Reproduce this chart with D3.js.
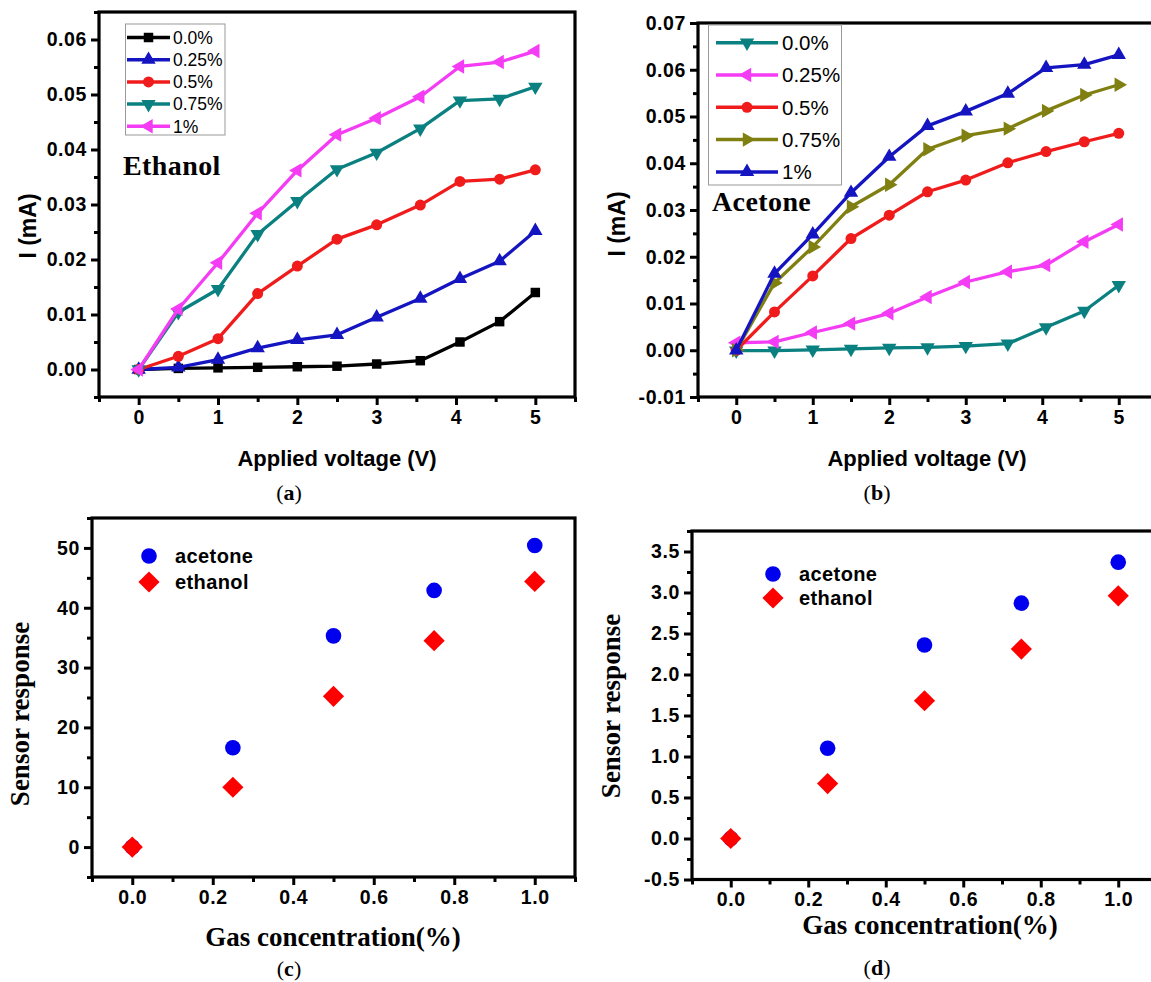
<!DOCTYPE html>
<html>
<head>
<meta charset="utf-8">
<script src="https://cdn.jsdelivr.net/npm/d3@7"></script>
<style>
  body { margin: 0; background: #fff; }
  svg { display: block; }
</style>
</head>
<body>
<svg width="1151" height="982"></svg>
<script>
// ---- data ----
const voltage = [0, 0.5, 1, 1.5, 2, 2.5, 3, 3.55, 4.05, 4.55, 5];
const legendLabels = ['0.0%', '0.25%', '0.5%', '0.75%', '1%'];

// (a) ethanol I-V, current in mA
const eth00 = [0, 0.0002, 0.0003, 0.0004, 0.0005, 0.0006, 0.001, 0.0016, 0.005, 0.0087, 0.014];
const eth025 = [0, 0.0004, 0.0018, 0.0039, 0.0054, 0.0063, 0.0095, 0.0129, 0.0165, 0.0197, 0.0252];
const eth05 = [0, 0.0024, 0.0056, 0.0138, 0.0188, 0.0237, 0.0263, 0.0299, 0.0342, 0.0346, 0.0363];
const eth075 = [0, 0.0104, 0.0146, 0.0246, 0.0306, 0.0364, 0.0394, 0.0438, 0.0489, 0.0492, 0.0514];
const eth1 = [0, 0.011, 0.0194, 0.0284, 0.0362, 0.0427, 0.0457, 0.0496, 0.0551, 0.0559, 0.0579];

// (b) acetone I-V
const ace00 = [-0.0001, -0.0001, 0.0001, 0.0003, 0.0005, 0.0006, 0.0009, 0.0014, 0.0049, 0.0084, 0.0139];
const ace025 = [0.0016, 0.0018, 0.0038, 0.0057, 0.0079, 0.0114, 0.0146, 0.0168, 0.0182, 0.0232, 0.0269];
const ace05 = [0, 0.0082, 0.0159, 0.0239, 0.0289, 0.0339, 0.0364, 0.0401, 0.0425, 0.0446, 0.0464];
const ace075 = [0, 0.0144, 0.0221, 0.0307, 0.0354, 0.043, 0.0459, 0.0474, 0.0512, 0.0546, 0.0568];
const ace1 = [0, 0.0164, 0.0248, 0.0337, 0.0414, 0.048, 0.0511, 0.0549, 0.0604, 0.0611, 0.0632];

// (c), (d) sensor response vs concentration
const conc = [0, 0.25, 0.5, 0.75, 1.0];
const respAceC = [0, 16.6, 35.3, 42.9, 50.4];
const respEthC = [0, 10.0, 25.2, 34.5, 44.4];
const respAceD = [0, 1.10, 2.36, 2.87, 3.37];
const respEthD = [0, 0.67, 1.68, 2.31, 2.96];

// ticks
const ivXTicks = [0, 1, 2, 3, 4, 5];
const ethYTicks = [0, 0.01, 0.02, 0.03, 0.04, 0.05, 0.06];
const aceYTicks = [-0.01, 0, 0.01, 0.02, 0.03, 0.04, 0.05, 0.06, 0.07];
const concXTicks = [0, 0.2, 0.4, 0.6, 0.8, 1.0];
const respYTicksC = [0, 10, 20, 30, 40, 50];
const respYTicksD = [-0.5, 0, 0.5, 1.0, 1.5, 2.0, 2.5, 3.0, 3.5];

const col = {
  black: '#000000', blue: '#1414c0', red: '#f01c1c', teal: '#0b8080',
  magenta: '#f43cf4', olive: '#808012'
};

const svg = d3.select('svg');
const SANS = '"Liberation Sans", Arial, sans-serif';
const SERIF = '"Liberation Serif", "Times New Roman", serif';

function setupPanel(c) {
  const g = svg.append('g');
  const x = d3.scaleLinear().domain(c.xd).range([c.left, c.right]);
  const y = d3.scaleLinear().domain(c.yd).range([c.bottom, c.top]);

  const style = sel => {
    sel.select('.domain').remove();
    sel.selectAll('line').attr('stroke', '#000').attr('stroke-width', 3);
    sel.selectAll('text')
      .attr('fill', '#000')
      .style('font-family', SANS)
      .style('font-weight', 'bold')
      .style('font-size', '19.5px')
      .style('letter-spacing', '0.6px');
  };

  g.append('g').attr('transform', `translate(0,${c.bottom})`)
    .call(d3.axisBottom(x).tickValues(c.xMinor).tickSize(5).tickFormat(''))
    .call(style);
  g.append('g').attr('transform', `translate(0,${c.bottom})`)
    .call(d3.axisBottom(x).tickValues(c.xTicks).tickSize(8).tickPadding(5).tickFormat(c.xFmt))
    .call(style);
  g.append('g').attr('transform', `translate(${c.left},0)`)
    .call(d3.axisLeft(y).tickValues(c.yMinor).tickSize(5).tickFormat(''))
    .call(style);
  g.append('g').attr('transform', `translate(${c.left},0)`)
    .call(d3.axisLeft(y).tickValues(c.yTicks).tickSize(8).tickPadding(4).tickFormat(c.yFmt))
    .call(style);

  g.append('rect')
    .attr('x', c.left).attr('y', c.top)
    .attr('width', c.right - c.left).attr('height', c.bottom - c.top)
    .attr('fill', 'none').attr('stroke', '#000').attr('stroke-width', 3.2);

  return { g, x, y };
}

const rot = { up: 0, down: 180, left: -90, right: 90 };
function marker(sel, shape, size) {
  const type = shape === 'square' ? d3.symbolSquare
    : shape === 'circle' ? d3.symbolCircle : d3.symbolTriangle;
  const r = rot[shape] || 0;
  sel.attr('d', d3.symbol().type(type).size(size)())
    .attr('transform', d => `translate(${d[0]},${d[1]}) rotate(${r})`);
}
const msize = s => s === 'circle' ? 95 : s === 'square' ? 90 : 90;

function ivPanel(c, series, legend, label) {
  const p = setupPanel(c);
  const line = d3.line().x(d => p.x(d[0])).y(d => p.y(d[1]));
  series.forEach(s => {
    const pts = voltage.map((v, i) => [v, s.vals[i]]);
    p.g.append('path').datum(pts)
      .attr('d', line).attr('fill', 'none')
      .attr('stroke', s.color).attr('stroke-width', 3.3).attr('stroke-linejoin', 'round');
    p.g.selectAll(null).data(pts.map(d => [p.x(d[0]), p.y(d[1])]))
      .join('path').attr('fill', s.color)
      .call(marker, s.shape, msize(s.shape));
  });

  // legend
  const L = legend;
  p.g.append('rect').attr('x', L.x0).attr('y', L.y0)
    .attr('width', L.x1 - L.x0).attr('height', L.y1 - L.y0)
    .attr('fill', '#fff').attr('stroke', '#999').attr('stroke-width', 1);
  series.forEach((s, i) => {
    const yy = L.row0 + i * L.step;
    p.g.append('line').attr('x1', L.lx0).attr('x2', L.lx1).attr('y1', yy).attr('y2', yy)
      .attr('stroke', s.color).attr('stroke-width', 3.5);
    p.g.append('path').datum([(L.lx0 + L.lx1) / 2, yy]).attr('fill', s.color)
      .call(marker, s.shape, msize(s.shape));
    p.g.append('text').attr('x', L.tx).attr('y', yy + L.fs * 0.36)
      .style('font-family', SANS).style('font-size', L.fs + 'px')
      .text(legendLabels[i]);
  });

  p.g.append('text').attr('x', label.x).attr('y', label.y)
    .style('font-family', SERIF).style('font-weight', 'bold').style('font-size', '28px')
    .style('letter-spacing', '0.4px')
    .text(label.text);
  return p;
}

function respPanel(c, ace, eth, leg) {
  const p = setupPanel(c);
  const acePts = conc.map((v, i) => [p.x(v), p.y(ace[i])]);
  const ethPts = conc.map((v, i) => [p.x(v), p.y(eth[i])]);
  p.g.selectAll(null).data(acePts).join('circle')
    .attr('cx', d => d[0]).attr('cy', d => d[1]).attr('r', 7.8).attr('fill', '#0000ee');
  p.g.selectAll(null).data(ethPts).join('path')
    .attr('d', d3.symbol().type(d3.symbolSquare).size(225)())
    .attr('transform', d => `translate(${d[0]},${d[1]}) rotate(45)`)
    .attr('fill', '#ff0000');

  p.g.append('circle').attr('cx', leg.x).attr('cy', leg.y1).attr('r', 7.8).attr('fill', '#0000ee');
  p.g.append('path').attr('d', d3.symbol().type(d3.symbolSquare).size(225)())
    .attr('transform', `translate(${leg.x},${leg.y2}) rotate(45)`).attr('fill', '#ff0000');
  [['acetone', leg.y1], ['ethanol', leg.y2]].forEach(([t, yy]) => {
    p.g.append('text').attr('x', leg.tx).attr('y', yy + 7)
      .style('font-family', SANS).style('font-weight', 'bold').style('font-size', '20px')
      .style('letter-spacing', '0.4px')
      .text(t);
  });
  return p;
}

function ivTitles(xc, xTitleY, yTitleX, yTitleY) {
  svg.append('text').attr('x', xc).attr('y', xTitleY).attr('text-anchor', 'middle')
    .style('font-family', SANS).style('font-weight', 'bold').style('font-size', '22px')
    .text('Applied voltage (V)');
  svg.append('text').attr('transform', `translate(${yTitleX},${yTitleY}) rotate(-90)`)
    .attr('text-anchor', 'middle')
    .style('font-family', SANS).style('font-weight', 'bold').style('font-size', '23px')
    .text('I (mA)');
}

function respTitles(xc, xTitleY, yTitleX, yTitleY) {
  svg.append('text').attr('x', xc).attr('y', xTitleY).attr('text-anchor', 'middle')
    .style('font-family', SERIF).style('font-weight', 'bold').style('font-size', '27px')
    .text('Gas concentration(%)');
  svg.append('text').attr('transform', `translate(${yTitleX},${yTitleY}) rotate(-90)`)
    .attr('text-anchor', 'middle')
    .style('font-family', SERIF).style('font-weight', 'bold').style('font-size', '27px')
    .text('Sensor response');
}

function panelLabel(x, y, letter) {
  const t = svg.append('text').attr('x', x).attr('y', y).attr('text-anchor', 'middle')
    .style('font-family', SERIF).style('font-size', '22px');
  t.append('tspan').text('(');
  t.append('tspan').style('font-weight', 'bold').text(letter);
  t.append('tspan').text(')');
}

const f2 = d3.format('.2f');
const f1 = d3.format('.1f');
const fneg = f => (d => (d < 0 ? '-' : '') + f(Math.abs(d)));

// (a)
ivPanel({
  left: 99, right: 575, top: 12, bottom: 397,
  xd: [-0.5, 5.5], yd: [-0.005, 0.065],
  xTicks: ivXTicks, xMinor: d3.range(-0.5, 5.6, 1),
  yTicks: ethYTicks, yMinor: d3.range(-0.005, 0.066, 0.01),
  xFmt: d3.format('d'), yFmt: f2
}, [
  { vals: eth00, color: col.black, shape: 'square' },
  { vals: eth025, color: col.blue, shape: 'up' },
  { vals: eth05, color: col.red, shape: 'circle' },
  { vals: eth075, color: col.teal, shape: 'down' },
  { vals: eth1, color: col.magenta, shape: 'left' }
], {
  x0: 125.5, x1: 225, y0: 24, y1: 135, row0: 37.5, step: 22.2,
  lx0: 127, lx1: 170, tx: 173, fs: 17.5
}, { x: 123, y: 175, text: 'Ethanol' });
ivTitles(337, 466, 36, 226);
panelLabel(289, 500, 'a');

// (b)
ivPanel({
  left: 698, right: 1157, top: 23, bottom: 397,
  xd: [-0.5, 5.5], yd: [-0.01, 0.07],
  xTicks: ivXTicks, xMinor: d3.range(-0.5, 5.6, 1),
  yTicks: aceYTicks, yMinor: d3.range(-0.005, 0.066, 0.01),
  xFmt: d3.format('d'), yFmt: fneg(f2)
}, [
  { vals: ace00, color: col.teal, shape: 'down' },
  { vals: ace025, color: col.magenta, shape: 'left' },
  { vals: ace05, color: col.red, shape: 'circle' },
  { vals: ace075, color: col.olive, shape: 'right' },
  { vals: ace1, color: col.blue, shape: 'up' }
], {
  x0: 708.5, x1: 841.5, y0: 25, y1: 185, row0: 42.7, step: 32.3,
  lx0: 716, lx1: 778, tx: 782, fs: 20.5
}, { x: 712, y: 211, text: 'Acetone' });
ivTitles(927, 466, 625, 224);
panelLabel(877, 500, 'b');

// (c)
respPanel({
  left: 92, right: 575, top: 518, bottom: 877,
  xd: [-0.1, 1.1], yd: [-5, 55],
  xTicks: concXTicks, xMinor: d3.range(-0.1, 1.15, 0.2),
  yTicks: respYTicksC, yMinor: d3.range(-5, 56, 10),
  xFmt: f1, yFmt: d3.format('d')
}, respAceC, respEthC, { x: 149, y1: 556, y2: 582, tx: 175 });
respTitles(333, 946, 29, 714);
panelLabel(289, 976, 'c');

// (d)
respPanel({
  left: 692, right: 1157, top: 531, bottom: 879.5,
  xd: [-0.1, 1.1], yd: [-0.5, 3.75],
  xTicks: concXTicks, xMinor: d3.range(-0.1, 1.15, 0.2),
  yTicks: respYTicksD, yMinor: d3.range(-0.25, 3.8, 0.5),
  xFmt: f1, yFmt: fneg(f1)
}, respAceD, respEthD, { x: 773, y1: 574, y2: 598, tx: 799 });
respTitles(930, 934, 620, 706);
panelLabel(877, 975, 'd');
</script>
</body>
</html>
